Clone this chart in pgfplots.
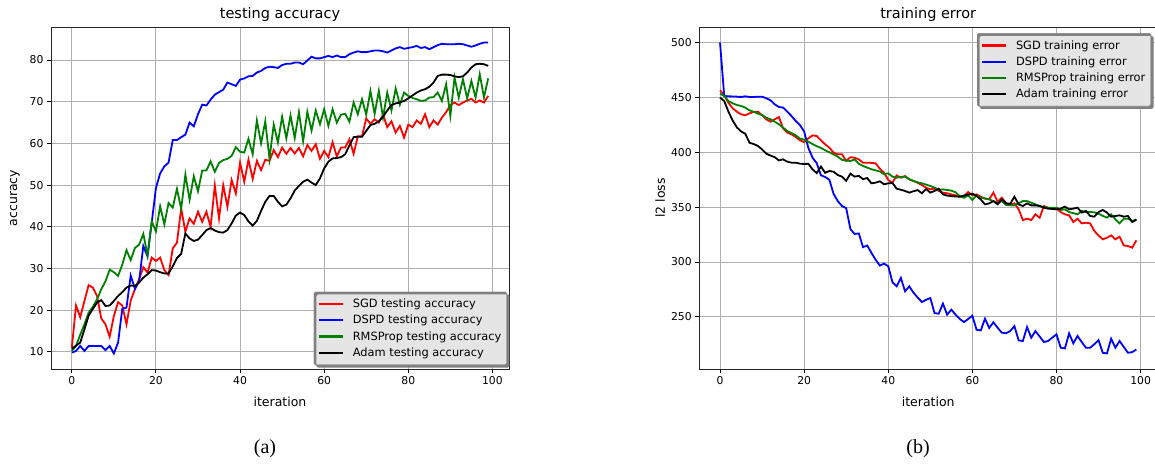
\documentclass[border=0pt]{standalone}
\usepackage{fontspec}
\setmainfont{DejaVu Sans}
\newfontfamily\capfont{Liberation Serif}
\usepackage{pgfplots}
\pgfplotsset{compat=1.18}
\usepackage{pgfplotstable}

\definecolor{legfill}{RGB}{229,229,229}
\definecolor{gridc}{RGB}{176,176,176}
\definecolor{mgreen}{RGB}{0,128,0}

\pgfplotstableread{
i sgd dspd rms adam
0 11 9.8 10.2 10.7
1 21.1 10.2 11.4 11.5
2 18.3 11.4 14.1 12.2
3 22.2 10.2 16.6 15.4
4 26 11.4 19.4 18.7
5 25.4 11.4 20.8 20.3
6 23.4 11.4 22.6 21.8
7 18 11.4 25 22.4
8 16.6 10.4 26.9 21
9 13.6 11.4 29.7 21.1
10 18.6 9.6 29.1 22.2
11 21.9 12.2 28.2 23.4
12 21.1 20.3 30.9 24.3
13 16.6 20.6 34.4 25.4
14 22.3 28.3 32 25.9
15 25 25.1 34.9 25.8
16 27.4 26.9 35.7 26.6
17 30.3 35.4 38.3 27.8
18 29 32.9 33.2 28.6
19 32.6 41 41.3 29.6
20 31.8 49.3 38.9 29.5
21 32.6 52.8 44.9 29.1
22 29.6 54.5 40.6 28.8
23 28.4 55.4 45.7 28.8
24 34.8 60.8 44.6 30.5
25 36.2 60.8 49.1 32.5
26 44.4 61.5 44.3 33.5
27 38.8 62.1 52.5 38.4
28 42 65 46.5 37.2
29 40.7 64.1 52.1 36.6
30 43.6 67 48.5 36.9
31 41.2 69.3 53.5 38
32 43.6 69.1 53.5 39.2
33 40 70.5 55.7 39.7
34 49.9 71.7 53.2 39.1
35 42 72.3 55.3 38.7
36 50 72.9 56 38.6
37 44.8 74.6 56.3 39.2
38 51.2 74.2 57 40.8
39 48 73.8 59.1 42.7
40 55.4 75.3 58 43.4
41 50.8 75.6 57.8 42.8
42 56.1 76.1 61.1 41.3
43 51.5 76.2 57.4 40.3
44 55.8 77 65.5 41.4
45 53.6 77.4 60 43.8
46 56.1 78.1 65.3 46
47 55.8 78.4 56.3 47.4
48 58.4 78.3 64.5 47.4
49 56.7 78.1 60.2 46
50 59 78.8 66.4 44.9
51 57.5 79.1 61.2 45.3
52 58.9 79.1 66.7 46.8
53 57.6 79.4 61.3 48.7
54 58.9 79.4 67.5 49.8
55 56.9 79 60.5 50.8
56 59.6 79.9 67.6 51.3
57 58.2 80.8 63.1 50.6
58 59.8 80.4 67.9 50
59 56.3 80.4 64.6 51.6
60 58.2 80.7 68.2 54
61 56.7 81 64.2 55.6
62 60.3 80.7 68.2 56.4
63 56.9 81.1 65 56.5
64 59 80.7 66.9 56.7
65 59 80.7 67.1 57.4
66 61 81.4 65.2 59.5
67 57.5 81.8 69.8 61.5
68 61.7 82.1 67 61.6
69 61.7 81.9 70.6 61.6
70 66 81.9 66.9 63
71 64.7 82.1 72.6 64.4
72 65.8 82.3 67.1 64.7
73 65 82.3 72.6 65.3
74 66.9 82.1 66.2 66.4
75 63.9 81.8 72.2 67.9
76 65.3 82.3 67.9 69.2
77 62.6 82.8 73.2 69.6
78 64.2 83.1 69.3 69.8
79 61.4 82.7 72.2 70.2
80 64.5 82.9 71.4 70.8
81 63.9 83.1 70.9 71.5
82 65.5 83.4 70.6 72.2
83 64.7 82.9 70.2 72.7
84 67 83.1 70.3 73
85 63.9 82.6 71 73.6
86 65.5 83.1 71.1 74.6
87 64.5 83.6 72.2 76.2
88 66.2 83.9 70.2 76.5
89 67.5 83.8 74.2 76.5
90 69.2 83.8 66.6 76.4
91 69.8 83.8 75.8 76.1
92 69.2 83.9 71 75.9
93 69.8 83.8 75.4 76.1
94 70.3 83.5 70.8 77
95 70.7 83.2 75 78.2
96 69.8 83.5 71 79
97 70.3 83.9 76.6 79.1
98 69.8 84.2 71 79
99 71.4 84.2 75.6 78.6
}\acctable

\pgfplotstableread{
i sgd dspd rms adam
0 456.5 500 453.4 449.8
1 451.9 451.3 451.3 446.7
2 445.2 451 446.7 437
3 440.1 450.9 444.6 429
4 437 450.7 443.1 422.7
5 434.6 450.4 442.2 419
6 433.7 451 440.7 416.9
7 435.5 450.4 438.2 408.7
8 436.7 450.4 437 407.5
9 437 450.7 435.2 405.7
10 433.7 450.7 434 402.6
11 430 449.2 431.5 398.7
12 427.9 447.4 430 397
13 430 443.7 427.9 395.5
14 432.1 441.3 425.5 392.6
15 421.8 440.7 422.4 393.5
16 417.9 437 419.4 391.4
17 416.3 433 417.5 390.5
18 413.9 428.5 415.5 390.5
19 410.9 424.8 412.5 389.6
20 409.3 419 411.5 389.3
21 412.7 404 409.6 389.5
22 415.4 395 407.5 384.4
23 414.8 390 405.5 381
24 410.9 379 404 387
25 407.2 377.4 401.8 381.3
26 404.2 375 400 382.9
27 399.6 362 398 382.3
28 398.1 355.5 396 379.2
29 398.1 351 393 377.8
30 392 349 392.5 374
31 395.5 330 392 380.5
32 395 325.5 393.5 377.8
33 393.5 326 389.5 378.5
34 390.5 313.5 387.5 375.5
35 390.5 315 386 376.5
36 390.3 308.3 384.5 371.7
37 389.9 302 383.5 372.3
38 385 296.7 382.5 373.5
39 381.3 298.5 380 370.8
40 374.7 296.1 380.8 371.7
41 372.2 281.5 377.8 372
42 378.9 277.8 376.8 366.8
43 376.8 285.4 377.5 365.8
44 378.3 273.2 377.8 364.7
45 375.3 277.8 375.5 363.2
46 373.8 272 373.8 364.5
47 372.2 267.5 372.5 365.5
48 370.1 263.5 371.7 362.6
49 367.7 265.5 370.5 366.5
50 366.2 267.1 369.3 363.2
51 366.8 253.4 367.8 364.7
52 364.7 252.8 365.6 366.8
53 363.2 262 366.2 361.6
54 362.6 251.9 365.6 360.5
55 361.6 256.5 365 360
56 360.7 252 363.5 359.7
57 359.5 248 360 359.5
58 360.1 245.2 358.5 360.5
59 363.7 248 360.7 361.5
60 360.7 251 356.5 362.2
61 361.6 238.2 360.7 360.1
62 359.5 237.6 358.5 357
63 357.7 248.3 358 352.5
64 357.1 239.8 357 353.4
65 363.2 245 355.5 355.5
66 355 240 354 352.5
67 358.6 235.5 355.3 357.1
68 353.5 235 352 353.4
69 352.5 237 351.6 353
70 353.4 241.5 351.6 359.5
71 348 228.5 353.5 352.5
72 338.2 227.9 355.5 351
73 339.4 240.7 355.5 353.4
74 338.2 230.9 354 351.6
75 343.4 237 352.5 351.6
76 340.3 232 351 351
77 351 227 350 349.5
78 349.5 227.9 349.5 348.6
79 348.6 231 349.5 348.3
80 348.6 234 349.5 348
81 345.5 221.8 347.4 348.6
82 343.4 221.2 348 350.4
83 342.5 234.9 345.5 348
84 336.4 225.8 344.5 348.6
85 339.4 232.5 343.4 349.5
86 335.2 227 346.5 345
87 335.8 221.8 345.5 346.5
88 335.2 221.8 345.5 341.9
89 328.2 225 345.3 341.3
90 324.2 228.8 344 345.5
91 320.6 217.2 342 347.4
92 322.1 216.6 340.4 345
93 324.2 230 343.4 341.3
94 320.6 221.8 339 341.9
95 323 227.9 335.2 342.5
96 315.1 222.5 339.4 341.3
97 314.5 217.2 339.4 341.9
98 313 217.8 337.3 336.4
99 319.7 220.2 338.8 338.5
}\losstable

\pgfplotsset{
  every axis/.append style={
    scale only axis, width=458pt, height=342pt,
    xmin=-4.95, xmax=103.95,
    xtick={0,20,...,100},
    tick align=outside, tick pos=left,
    major tick length=4pt,
    grid=major,
    major grid style={gridc, line width=0.9pt},
    axis line style={black!85, line width=0.9pt},
    every tick/.style={black, line width=0.9pt},
    tick label style={font=\fontsize{10.8}{12}\selectfont},
    label style={font=\fontsize{12.5}{14}\selectfont},
    xlabel style={at={(0.5,-0.0965)}, anchor=center},
    /pgf/number format/assume math mode=true,
    legend cell align=left,
    legend style={fill=legfill, draw=black!70, rounded corners=1.5pt,
      font=\fontsize{11.4}{13}\selectfont, inner xsep=3.5pt, inner ysep=5pt,
      row sep=2pt, column sep=7pt},
  },
  every axis title/.style={at={(0.5,1.038)}, anchor=center, font=\fontsize{14.5}{16}\selectfont},
  legend image code/.code={\draw[#1, line width=2.2pt] (0pt,0pt) -- (24pt,0pt);},
  every axis plot/.append style={line width=1.8pt},
}

\begin{document}
\begin{tikzpicture}
\useasboundingbox (0pt,0pt) rectangle (1155pt,467pt);
\begin{axis}[
  at={(51pt,98pt)}, anchor=south west,
  ymin=5.87, ymax=87.93,
  ytick={10,20,...,80},
  title={testing accuracy},
  xlabel={iteration}, ylabel={accuracy},
  ylabel style={at={(axis description cs:-0.0785,0.5)}, anchor=center},
  legend style={at={(0.9956,0.0117)}, anchor=south east, name=legA},
]
\addplot[red] table[x=i,y=sgd] {\acctable};
\addlegendentry{SGD testing accuracy}
\addplot[blue] table[x=i,y=dspd] {\acctable};
\addlegendentry{DSPD testing accuracy}
\addplot[mgreen] table[x=i,y=rms] {\acctable};
\addlegendentry{RMSProp testing accuracy}
\addplot[black] table[x=i,y=adam] {\acctable};
\addlegendentry{Adam testing accuracy}
\end{axis}
\fill[black!50, even odd rule, rounded corners=1.5pt]
  ([shift={(2.5pt,-2.5pt)}]legA.south west) rectangle ([shift={(2.5pt,-2.5pt)}]legA.north east)
  (legA.south west) rectangle (legA.north east);
\begin{axis}[
  at={(699.2pt,98pt)}, anchor=south west,
  ymin=202.4, ymax=514.2,
  ytick={250,300,...,500},
  title={training error},
  xlabel={iteration}, ylabel={l2 loss},
  ylabel style={at={(axis description cs:-0.085,0.5)}, anchor=center},
  legend style={at={(0.9865,0.9816)}, anchor=north east, name=legB},
]
\addplot[red] table[x=i,y=sgd] {\losstable};
\addlegendentry{SGD training error}
\addplot[blue] table[x=i,y=dspd] {\losstable};
\addlegendentry{DSPD training error}
\addplot[mgreen] table[x=i,y=rms] {\losstable};
\addlegendentry{RMSProp training error}
\addplot[black] table[x=i,y=adam] {\losstable};
\addlegendentry{Adam training error}
\end{axis}
\fill[black!50, even odd rule, rounded corners=1.5pt]
  ([shift={(2.5pt,-2.5pt)}]legB.south west) rectangle ([shift={(2.5pt,-2.5pt)}]legB.north east)
  (legB.south west) rectangle (legB.north east);
\node[font=\capfont\fontsize{20}{22}\selectfont] at (265pt,18pt) {(a)};
\node[font=\capfont\fontsize{20}{22}\selectfont] at (918pt,18pt) {(b)};
\end{tikzpicture}
\end{document}
